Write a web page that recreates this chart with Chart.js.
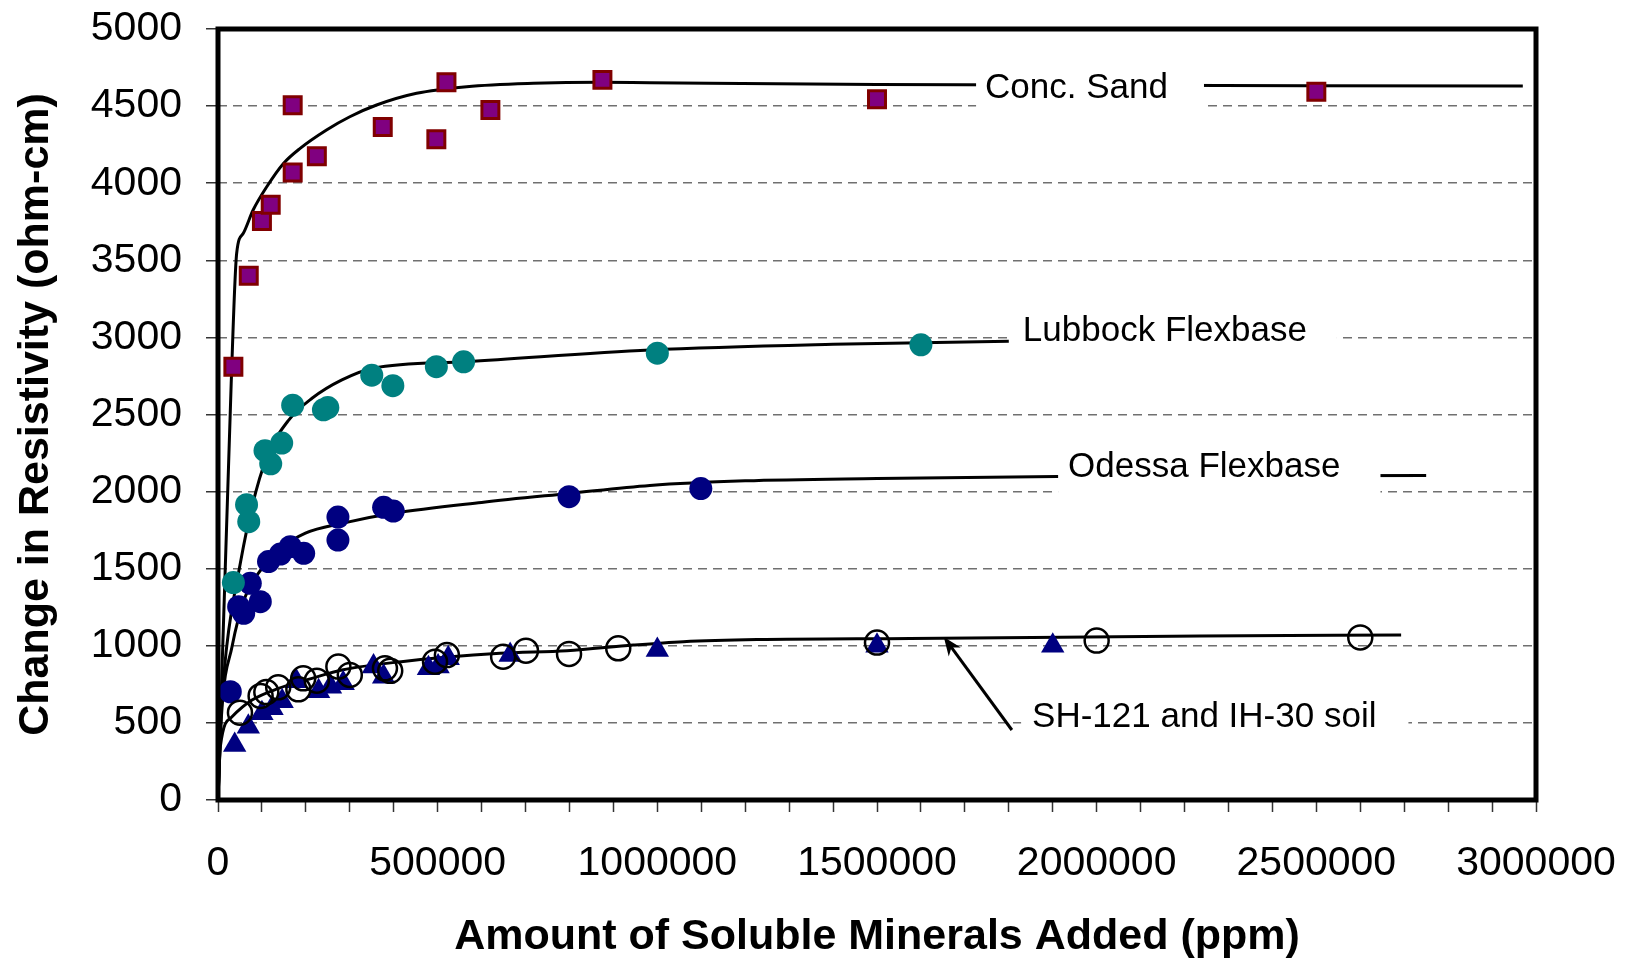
<!DOCTYPE html>
<html>
<head>
<meta charset="utf-8">
<script src="https://cdn.jsdelivr.net/npm/chart.js@4.4.0/dist/chart.umd.min.js"></script>
<style>
  html, body { margin: 0; padding: 0; background: #fff; }
  canvas { display: block; }
</style>
</head>
<body>
<canvas id="chart" width="1633" height="963"></canvas>
<script>
// measured points
const concSandX = [35000, 70000, 100000, 120000, 170000, 170000, 225000, 375000, 497000, 520000, 620000, 875000, 1500000, 2500000];
const concSandY = [2810, 3400, 3755, 3860, 4070, 4505, 4175, 4365, 4285, 4655, 4475, 4670, 4545, 4593];

const lubbockX = [35000, 65000, 70000, 107000, 120000, 145000, 170000, 240000, 250000, 350000, 398000, 497000, 559000, 1000000, 1600000];
const lubbockY = [1410, 1915, 1805, 2265, 2180, 2315, 2560, 2530, 2545, 2755, 2687, 2810, 2842, 2898, 2952];

const odessaX = [28000, 47000, 58500, 73500, 96300, 115000, 142000, 164600, 195000, 273000, 273000, 377000, 399000, 799000, 1099000];
const odessaY = [702, 1254, 1211, 1405, 1286, 1546, 1595, 1643, 1600, 1835, 1686, 1898, 1874, 1967, 2020];

const soilCircleX = [50000, 97000, 110000, 137000, 183000, 194000, 225000, 274000, 300000, 380000, 392000, 494000, 521000, 649000, 701000, 799000, 911000, 1500000, 2000000, 2600000];
const soilCircleY = [566, 675, 700, 731, 718, 789, 774, 865, 811, 854, 838, 897, 940, 929, 968, 947, 984, 1021, 1034, 1054];

const soilTriangleX = [38000, 69000, 100000, 123000, 146000, 178000, 229000, 256000, 285000, 354000, 377000, 479000, 501000, 524000, 665000, 1000000, 1500000, 1900000];
const soilTriangleY = [357, 475, 562, 595, 640, 770, 705, 735, 757, 865, 800, 854, 865, 919, 940, 973, 1000, 1000];

// fitted curves
const concSandFitX = [0, 30000, 42500, 57600, 80000, 111000, 149000, 187000, 247000, 300000, 361000, 452000, 566000, 718000, 870000, 983000, 1500000, 2970000];
const concSandFitY = [0, 2700, 3546, 3675, 3826, 3977, 4128, 4226, 4345, 4431, 4507, 4583, 4626, 4648, 4655, 4652, 4640, 4630];

const lubbockFitX = [0, 8000, 20000, 50800, 77400, 111500, 161000, 214000, 282000, 353000, 566000, 983000, 1400000, 1800000];
const lubbockFitY = [0, 600, 1000, 1535, 1902, 2226, 2464, 2605, 2724, 2800, 2842, 2918, 2955, 2975];

const odessaFitX = [0, 8000, 31900, 62000, 100000, 138000, 199000, 282000, 399000, 600000, 799000, 983000, 1200000, 1500000, 1910000, 2750000];
const odessaFitY = [0, 550, 994, 1318, 1502, 1621, 1730, 1794, 1859, 1930, 1988, 2040, 2070, 2085, 2098, 2105];

const soilFitX = [0, 5300, 31900, 77400, 138000, 214000, 282000, 417000, 642000, 794000, 945000, 1059000, 1227000, 1575000, 2235000, 2693000];
const soilFitY = [0, 346, 540, 648, 724, 789, 843, 897, 951, 968, 1005, 1027, 1041, 1048, 1063, 1070];

const xLabelStep = 500000;

const toPoints = (xs, ys) => xs.map((x, i) => ({ x: x, y: ys[i] }));

Chart.defaults.font.family = '"Liberation Sans", Arial, sans-serif';
Chart.defaults.color = "#000";

const seriesLabels = [
  { text: "Conc. Sand", x: 1746000, y: 4617, padL: 9, padR: 36 },
  { text: "Lubbock Flexbase", x: 1832000, y: 3042, padL: 11, padR: 30 },
  { text: "Odessa Flexbase", x: 1935000, y: 2160, padL: 10, padR: 40 },
  { text: "SH-121 and IH-30 soil", x: 1853000, y: 538, padL: 11, padR: 32 },
];

const overlayPlugin = {
  id: "overlay",
  afterDatasetsDraw(chart) {
    const { ctx, chartArea: a } = chart;
    const xs = chart.scales.x, ys = chart.scales.y;
    ctx.save();

    // labels on white boxes
    ctx.font = '35px "Liberation Sans", Arial, sans-serif';
    ctx.textBaseline = "middle";
    seriesLabels.forEach((l) => {
      const px = xs.getPixelForValue(l.x);
      const py = ys.getPixelForValue(l.y);
      const w = ctx.measureText(l.text).width;
      ctx.fillStyle = "#fff";
      ctx.fillRect(px - l.padL, py - 28, w + l.padL + l.padR, 56);
      ctx.fillStyle = "#000";
      ctx.fillText(l.text, px, py);
    });

    // arrow to the soil curve
    const x1 = xs.getPixelForValue(1807000), y1 = ys.getPixelForValue(454);
    const x2 = xs.getPixelForValue(1652000), y2 = ys.getPixelForValue(1057);
    const ang = Math.atan2(y2 - y1, x2 - x1);
    ctx.strokeStyle = "#000";
    ctx.lineWidth = 3;
    ctx.beginPath();
    ctx.moveTo(x1, y1);
    ctx.lineTo(x2 - 12 * Math.cos(ang), y2 - 12 * Math.sin(ang));
    ctx.stroke();
    ctx.fillStyle = "#000";
    ctx.beginPath();
    ctx.moveTo(x2, y2);
    ctx.lineTo(x2 - 20 * Math.cos(ang - 0.38), y2 - 20 * Math.sin(ang - 0.38));
    ctx.lineTo(x2 - 13 * Math.cos(ang), y2 - 13 * Math.sin(ang));
    ctx.lineTo(x2 - 20 * Math.cos(ang + 0.38), y2 - 20 * Math.sin(ang + 0.38));
    ctx.closePath();
    ctx.fill();

    // plot frame
    ctx.lineWidth = 5;
    ctx.strokeRect(a.left, a.top, a.right - a.left, a.bottom - a.top);
    ctx.restore();
  },
};

const fitLine = (xs, ys) => ({
  type: "line",
  data: toPoints(xs, ys),
  borderColor: "#000",
  borderWidth: 3,
  pointRadius: 0,
  fill: false,
  cubicInterpolationMode: "monotone",
  order: 2,
});

new Chart(document.getElementById("chart"), {
  type: "scatter",
  data: {
    datasets: [
      fitLine(concSandFitX, concSandFitY),
      fitLine(lubbockFitX, lubbockFitY),
      fitLine(odessaFitX, odessaFitY),
      fitLine(soilFitX, soilFitY),
      {
        label: "Conc. Sand",
        data: toPoints(concSandX, concSandY),
        pointStyle: "rect",
        pointRadius: 12,
        backgroundColor: "#800080",
        borderColor: "#800000",
        borderWidth: 3,
        order: 1,
      },
      {
        label: "Lubbock Flexbase",
        data: toPoints(lubbockX, lubbockY),
        pointStyle: "circle",
        pointRadius: 11.5,
        backgroundColor: "#008080",
        borderWidth: 0,
        order: 1,
      },
      {
        label: "Odessa Flexbase",
        data: toPoints(odessaX, odessaY),
        pointStyle: "circle",
        pointRadius: 11.5,
        backgroundColor: "#000080",
        borderWidth: 0,
        order: 1,
      },
      {
        label: "SH-121 triangles",
        data: toPoints(soilTriangleX, soilTriangleY),
        pointStyle: "triangle",
        pointRadius: 13.5,
        backgroundColor: "#000080",
        borderColor: "#000080",
        borderWidth: 0,
        order: 1,
      },
      {
        label: "IH-30 circles",
        data: toPoints(soilCircleX, soilCircleY),
        pointStyle: "circle",
        pointRadius: 12,
        backgroundColor: "rgba(0,0,0,0)",
        borderColor: "#000",
        borderWidth: 2.5,
        order: 0,
      },
    ],
  },
  options: {
    responsive: false,
    animation: false,
    layout: { padding: { top: 29, right: 97, bottom: 0, left: 0 } },
    plugins: { legend: { display: false }, tooltip: { enabled: false } },
    scales: {
      x: {
        type: "linear",
        min: 0,
        max: 3000000,
        afterFit: (s) => {
          s.height = 163;
          s.paddingLeft = 0;
          s.paddingRight = 0;
        },
        ticks: {
          stepSize: 100000,
          maxTicksLimit: 40,
          autoSkip: false,
          maxRotation: 0,
          padding: 27,
          font: { size: 41 },
          color: "#000",
          callback: (v) => (v % xLabelStep === 0 ? String(v) : ""),
        },
        grid: { drawOnChartArea: false, drawTicks: true, tickLength: 12, tickColor: "#333", tickWidth: 1.5 },
        border: { display: false },
        title: {
          display: true,
          text: "Amount of Soluble Minerals Added (ppm)",
          font: { size: 43, weight: "bold" },
          color: "#000",
          padding: { top: 0, bottom: 0 },
        },
      },
      y: {
        type: "linear",
        min: 0,
        max: 5000,
        afterFit: (s) => {
          s.width = 218;
          s.paddingTop = 0;
          s.paddingBottom = 0;
        },
        ticks: { stepSize: 500, padding: 24, font: { size: 41 }, color: "#000", callback: (v) => String(v) },
        grid: { color: "#707070", lineWidth: 1.5, tickLength: 12, tickColor: "#333", tickWidth: 1.5 },
        border: { display: false, dash: [9, 6] },
        title: {
          display: true,
          text: "Change in Resistivity (ohm-cm)",
          font: { size: 43, weight: "bold" },
          color: "#000",
          padding: { top: 10, bottom: 0 },
        },
      },
    },
  },
  plugins: [overlayPlugin],
});
</script>
</body>
</html>
